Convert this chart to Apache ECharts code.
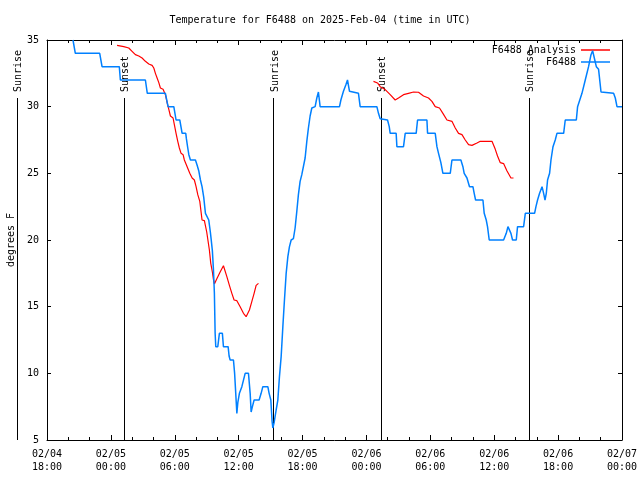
<!DOCTYPE html>
<html>
<head>
<meta charset="utf-8">
<script src="https://cdn.jsdelivr.net/npm/echarts@6/dist/echarts.min.js"></script>
<style>html,body{margin:0;padding:0;background:#fff}#c{width:640px;height:480px}</style>
</head>
<body>
<div id="c"></div>
<script>
// Hours since 02/04 18:00 UTC
const xTickLabels = ['02/04\n18:00','02/05\n00:00','02/05\n06:00','02/05\n12:00','02/05\n18:00','02/06\n00:00','02/06\n06:00','02/06\n12:00','02/06\n18:00','02/07\n00:00'];
const yTicks = [5,10,15,20,25,30,35];

const obsTimes = [2.44,2.66,4.95,5.17,6.79,6.89,9.24,9.42,11.12,11.37,11.91,12.12,12.47,12.69,13.03,13.09,13.22,13.32,13.47,13.94,14.10,14.25,14.41,14.56,14.72,14.88,15.03,15.19,15.34,15.41,15.53,15.63,15.72,15.79,15.85,16.04,16.19,16.47,16.57,17.01,17.10,17.20,17.51,17.62,17.67,17.83,17.92,18.07,18.30,18.45,18.61,18.92,19.08,19.17,19.29,19.45,19.92,20.11,20.27,20.74,20.86,21.02,21.14,21.21,21.33,21.42,21.52,21.68,21.83,21.99,22.15,22.30,22.46,22.62,22.77,22.93,23.14,23.30,23.46,23.61,23.77,23.93,24.08,24.24,24.40,24.55,24.71,24.87,25.18,25.34,25.49,25.65,27.47,27.60,27.84,28.07,28.22,28.41,29.25,29.41,30.98,31.13,31.29,31.98,32.14,32.23,32.79,32.86,33.48,33.64,34.67,34.80,35.68,35.74,36.46,36.62,36.77,36.99,37.18,37.87,38.03,38.87,39.06,39.18,39.44,39.68,40.00,40.12,40.25,40.94,41.06,41.25,41.37,41.53,42.88,43.13,43.29,43.44,43.57,43.72,44.07,44.19,44.76,44.92,45.79,45.92,46.07,46.26,46.49,46.64,46.77,46.89,47.01,47.20,47.33,47.52,47.73,47.89,48.52,48.67,49.71,49.83,50.24,50.55,50.86,51.09,51.24,51.40,51.59,51.80,52.03,53.21,53.37,53.53,54.00];
const obsValues = [35,34,34,33,33,32,32,31,31,30,30,29,29,28,28,27.6,26.9,26.4,26,26,25.6,25.2,24.5,24,23.2,22,22,21.5,20.6,20.1,19.2,17.8,16,13,12,12,13,13,12,12,11.3,11,11,10,10,7,7.8,8.5,9,9,10,10,8.5,7.1,7.5,8,8,8.5,9,9,8.5,8,6.4,5.9,6.3,6.75,7.25,8,9.75,11.25,13.5,15.5,17.5,18.75,19.5,20,20.1,20.9,22.15,23.4,24.4,24.9,25,26.15,27.4,28.4,29.3,29.9,30,30.65,31.1,30,30,30.5,31.15,31.65,32,31.15,31,30,30,29.5,29.1,29,28.5,28,28,27,27,28,28,29,29,28,28,27,26.5,25.8,25,25,26,26,25.5,25,24.65,24,24,23.5,23,23,22,21.5,21,20,20,20.5,21,21,20.5,20,20,21,21,22,22,22.5,23,23.5,24,23.5,23,23.5,24.5,25,26,27,27.5,28,28,29,29,30,31,32,33,33.9,34.2,33.65,33,32.8,31.1,31,30.65,30,30];

const anaTimes = [6.58,7.21,7.68,7.99,8.30,8.62,8.93,9.24,9.56,9.87,10.03,10.18,10.34,10.50,10.65,10.90,11.12,11.28,11.44,11.59,11.84,11.96,12.12,12.28,12.43,12.59,12.78,12.90,13.16,13.41,13.63,13.84,14.00,14.16,14.35,14.56,14.78,15.00,15.25,15.38,15.53,15.63,15.72,15.95,16.26,16.57,16.73,16.89,17.13,17.36,17.57,17.83,18.14,18.45,18.70,18.82,19.01,19.24,19.45,19.64,19.86,
  25.0,
  30.66,31.04,31.29,31.76,32.23,32.70,33.01,33.48,33.95,34.42,34.89,35.36,35.83,36.15,36.46,36.86,37.18,37.56,38.03,38.34,38.65,38.97,39.28,39.59,39.91,40.38,40.69,41.79,42.10,42.31,42.57,42.88,43.19,43.57,43.81];
const anaValues = [34.6,34.5,34.4,34.15,33.9,33.8,33.65,33.4,33.2,33.1,32.9,32.5,32.15,31.8,31.4,31.3,30.9,30.3,29.8,29.3,29.15,28.65,28.0,27.4,26.9,26.5,26.4,26.0,25.5,25.0,24.65,24.5,24.0,23.4,22.9,21.5,21.45,20.6,19.25,18.25,17.6,17.05,16.7,17.1,17.6,18.07,18.07,17.25,16.6,16.0,15.5,15.45,15.0,14.5,14.25,14.25,14.75,15.4,16.0,16.6,16.75,
  '-',
  31.9,31.78,31.5,31.28,30.9,30.5,30.65,30.9,31.0,31.1,31.08,30.8,30.65,30.4,30.0,29.9,29.5,29.0,28.9,28.4,28.0,27.9,27.5,27.15,27.1,27.27,27.4,27.4,26.8,26.3,25.8,25.73,25.2,24.65,24.65];

const sunTimes = [-2.82, 7.26, 21.27, 31.32, 45.23];
const sunLabels = ['Sunrise','Sunset','Sunrise','Sunset','Sunrise'];

const FONT = 'DejaVu Sans Mono';
const obsData = obsTimes.map((t,i)=>[t, obsValues[i]]);
const anaData = anaTimes.map((t,i)=>[t, anaValues[i]]);
const sunData = sunTimes.map((t,i)=>[t, i]);

const chart = echarts.init(document.getElementById('c'), null, {renderer:'canvas'});
const xCommon = {
  type:'value', min:0, max:54, interval:6,
  axisLine:{show:true, onZero:false, lineStyle:{color:'#000', width:1}},
  axisTick:{show:true, inside:true, length:5, lineStyle:{color:'#000'}},
  minorTick:{show:true, splitNumber:3, length:3, lineStyle:{color:'#000'}},
  splitLine:{show:false}
};
const yCommon = {
  type:'value', min:5, max:35, interval:5,
  axisLine:{show:true, onZero:false, lineStyle:{color:'#000', width:1}},
  axisTick:{show:true, inside:true, length:4, lineStyle:{color:'#000'}},
  splitLine:{show:false}
};
chart.setOption({
  animation:false,
  backgroundColor:'#fff',
  title:{text:'Temperature for F6488 on 2025-Feb-04 (time in UTC)', left:'center', top:15, padding:0,
    textStyle:{fontFamily:FONT, fontSize:10, fontWeight:'normal', color:'#000'}},
  grid:{left:47, right:18, top:40, bottom:40, containLabel:false, outerBoundsMode:'none'},
  legend:{
    data:[{name:'F6488 Analysis', icon:'rect'},{name:'F6488', icon:'rect'}],
    orient:'vertical', right:30, top:44, align:'right',
    itemWidth:29, itemHeight:1.5, itemGap:0, padding:0,
    textStyle:{fontFamily:FONT, fontSize:10, color:'#000', lineHeight:12}
  },
  xAxis:[
    Object.assign({}, xCommon, {position:'bottom',
      axisLabel:{show:true, margin:8, fontFamily:FONT, fontSize:10, color:'#000', lineHeight:13,
        formatter:(v)=>xTickLabels[Math.round(v/6)] || ''}}),
    Object.assign({}, xCommon, {position:'top', axisLabel:{show:false}})
  ],
  yAxis:[
    Object.assign({}, yCommon, {position:'left', name:'degrees F', nameLocation:'middle', nameGap:31, nameRotate:90,
      nameTextStyle:{fontFamily:FONT, fontSize:10, color:'#000'},
      axisLabel:{show:true, margin:8, fontFamily:FONT, fontSize:10, color:'#000',
        formatter:(v)=> yTicks.indexOf(v) >= 0 ? String(v) : ''}}),
    Object.assign({}, yCommon, {position:'right', axisLabel:{show:false}})
  ],
  series:[
    {
      type:'custom', name:'sun', clip:false, silent:true, z:1,
      data:sunData,
      renderItem:(params, api)=>{
        const t = api.value(0);
        const pBot = api.coord([t, 5]);
        const pTop = api.coord([t, 30.65]);
        const pTxt = api.coord([t, 31.1]);
        return {type:'group', children:[
          {type:'line', shape:{x1:Math.round(pBot[0])+0.5, y1:pBot[1], x2:Math.round(pTop[0])+0.5, y2:pTop[1]},
            style:{stroke:'#000', lineWidth:1}},
          {type:'text', x:pTxt[0]+1.5, y:pTxt[1], rotation:Math.PI/2,
            style:{text:sunLabels[params.dataIndex], font:'10px "DejaVu Sans Mono"', fill:'#000', align:'left', verticalAlign:'middle'}}
        ]};
      }
    },
    {
      type:'line', name:'F6488 Analysis', data:anaData, showSymbol:false, symbol:'none', connectNulls:false, z:3,
      lineStyle:{color:'#ff0000', width:1.2}, itemStyle:{color:'#ff0000'}
    },
    {
      type:'line', name:'F6488', data:obsData, showSymbol:false, symbol:'none', z:4,
      lineStyle:{color:'#0080ff', width:1.5}, itemStyle:{color:'#0080ff'}
    }
  ]
});
</script>
</body>
</html>
